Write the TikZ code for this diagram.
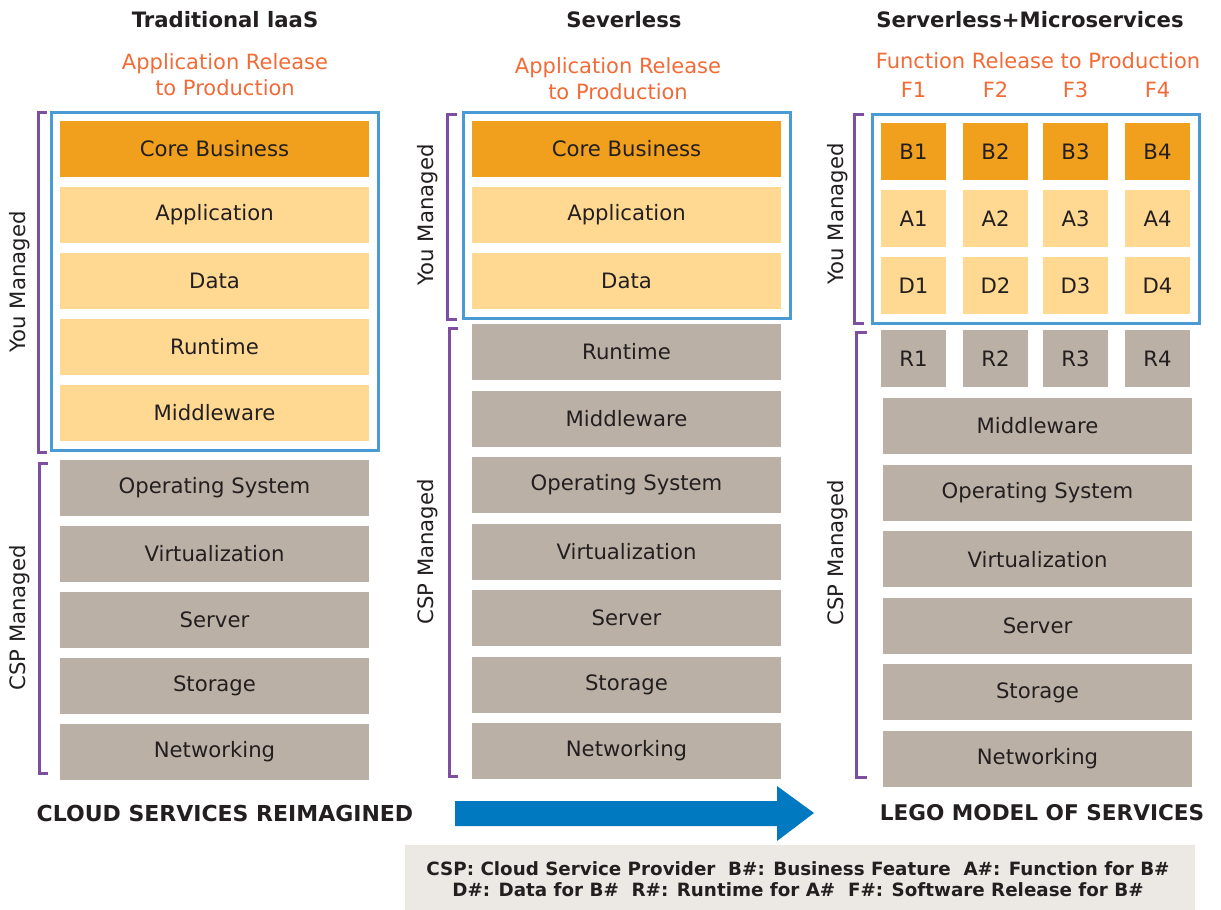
\documentclass[tikz,border=0pt]{standalone}
\usepackage{fontspec}
\setmainfont{DejaVu Sans}
\usetikzlibrary{positioning,fit}

\definecolor{corebiz}{HTML}{F0A01C}
\definecolor{lightbiz}{HTML}{FFD992}
\definecolor{cspgray}{HTML}{BBB0A5}
\definecolor{youblue}{HTML}{4A9AD4}
\definecolor{brackpurple}{HTML}{7E4FA0}
\definecolor{releaseorange}{HTML}{F26A36}
\definecolor{arrowblue}{HTML}{0079C1}
\definecolor{legendgray}{HTML}{ECE8E3}
\definecolor{inktext}{HTML}{231F20}

\tikzset{
  layer/.style = {minimum width=154.5pt, minimum height=28pt, inner sep=0pt,
                  outer sep=0pt, text=inktext, font=\fontsize{10.6}{12}\selectfont},
  core/.style  = {layer, fill=corebiz},
  own/.style   = {layer, fill=lightbiz},
  csp/.style   = {layer, fill=cspgray},
  brick/.style = {layer, minimum width=32.5pt, minimum height=28.5pt},
  youbox/.style = {draw=youblue, line width=1.5pt, inner sep=4.5pt},
  bracket/.style = {draw=brackpurple, line width=1.5pt},
  headline/.style = {text=inktext, font=\bfseries\fontsize{10.6}{12}\selectfont},
  release/.style = {text=releaseorange, align=center,
                    font=\fontsize{10.5}{13}\selectfont},
  sidelabel/.style = {text=inktext, rotate=90, font=\fontsize{10.6}{12}\selectfont},
}

\begin{document}
\begin{tikzpicture}[x=0.5pt, y=-0.5pt]
  \useasboundingbox (0,0) rectangle (1221,910);

  % traditional IaaS
  \node[headline] (title1) at (225,20) {Traditional laaS};
  \node[release] (rel1) at (225,75) {Application Release\\to Production};
  \node[core] (core1) at (214.5,149) {Core Business};
  \node[own, below=5pt of core1] (app1) {Application};
  \node[own, below=5pt of app1] (data1) {Data};
  \node[own, below=5pt of data1] (run1) {Runtime};
  \node[own, below=5pt of run1] (mid1) {Middleware};
  \node[csp, below=9.5pt of mid1] (os1) {Operating System};
  \node[csp, below=5pt of os1] (virt1) {Virtualization};
  \node[csp, below=5pt of virt1] (serv1) {Server};
  \node[csp, below=5pt of serv1] (stor1) {Storage};
  \node[csp, below=5pt of stor1] (net1) {Networking};
  \node[youbox, fit=(core1)(mid1)] (you1) {};
  \draw[bracket] (47,112) -| (38,452) -- (47,452);
  \draw[bracket] (48,463) -| (39,773) -- (48,773);
  \node[sidelabel] (youlab1) at (20,282) {You Managed};
  \node[sidelabel] (csplab1) at (20,618) {CSP Managed};

  % serverless
  \node[headline] (title2) at (624,20) {Severless};
  \node[release] (rel2) at (618,79) {Application Release\\to Production};
  \node[core] (core2) at (626.5,149) {Core Business};
  \node[own, below=5pt of core2] (app2) {Application};
  \node[own, below=5pt of app2] (data2) {Data};
  \node[csp, below=7.5pt of data2] (run2) {Runtime};
  \node[csp, below=5.25pt of run2] (mid2) {Middleware};
  \node[csp, below=5.25pt of mid2] (os2) {Operating System};
  \node[csp, below=5.25pt of os2] (virt2) {Virtualization};
  \node[csp, below=5.25pt of virt2] (serv2) {Server};
  \node[csp, below=5.25pt of serv2] (stor2) {Storage};
  \node[csp, below=5.25pt of stor2] (net2) {Networking};
  \node[youbox, fit=(core2)(data2)] (you2) {};
  \draw[bracket] (457,114) -| (447,319) -- (457,319);
  \draw[bracket] (458,328) -| (449,776) -- (458,776);
  \node[sidelabel] (youlab2) at (428,215) {You Managed};
  \node[sidelabel] (csplab2) at (428,552) {CSP Managed};

  % serverless + microservices
  \node[headline] (title3) at (1030,20) {Serverless+Microservices};
  \node[release] (rel3) at (1038,61) {Function Release to Production};
  \foreach \i/\x in {1/913.5, 2/995.5, 3/1075.5, 4/1157.5} {
    \node[release] (F\i) at (\x,90) {F\i};
    \node[brick, fill=corebiz] (B\i) at (\x,151.5) {B\i};
    \node[brick, fill=lightbiz, below=5pt of B\i] (A\i) {A\i};
    \node[brick, fill=lightbiz, below=5pt of A\i] (D\i) {D\i};
    \node[brick, fill=cspgray, below=8pt of D\i] (R\i) {R\i};
  }
  \node[csp] (mid3) at (1037.5,426) {Middleware};
  \node[csp, below=5.3pt of mid3] (os3) {Operating System};
  \node[csp, below=5.3pt of os3] (virt3) {Virtualization};
  \node[csp, below=5.3pt of virt3] (serv3) {Server};
  \node[csp, below=5.3pt of serv3] (stor3) {Storage};
  \node[csp, below=5.3pt of stor3] (net3) {Networking};
  \node[youbox, fit=(B1)(D4)] (you3) {};
  \draw[bracket] (864,114) -| (854,323) -- (864,323);
  \draw[bracket] (867,332) -| (856,777) -- (867,777);
  \node[sidelabel] (youlab3) at (838,214) {You Managed};
  \node[sidelabel] (csplab3) at (838,553) {CSP Managed};

  % bottom line
  \node[headline, font=\bfseries\fontsize{11}{12}\selectfont] (reimag) at (225,813)
    {CLOUD SERVICES REIMAGINED};
  \node[headline, font=\bfseries\fontsize{10.8}{12}\selectfont] (lego) at (1042,813)
    {LEGO MODEL OF SERVICES};
  \fill[arrowblue] (455,801) -- (777,801) -- (777,786) -- (814,813)
    -- (777,841) -- (777,826) -- (455,826) -- cycle;
  \fill[legendgray] (405,845) rectangle (1195,910);
  \node[text=inktext, align=center, font=\bfseries\fontsize{9.15}{10.5}\selectfont]
    (legend) at (798,879.5)
    {CSP: Cloud Service Provider\ \ B\#: Business Feature\ \ A\#: Function for B\#\\
     D\#: Data for B\#\ \ R\#: Runtime for A\#\ \ F\#: Software Release for B\#};
\end{tikzpicture}
\end{document}
